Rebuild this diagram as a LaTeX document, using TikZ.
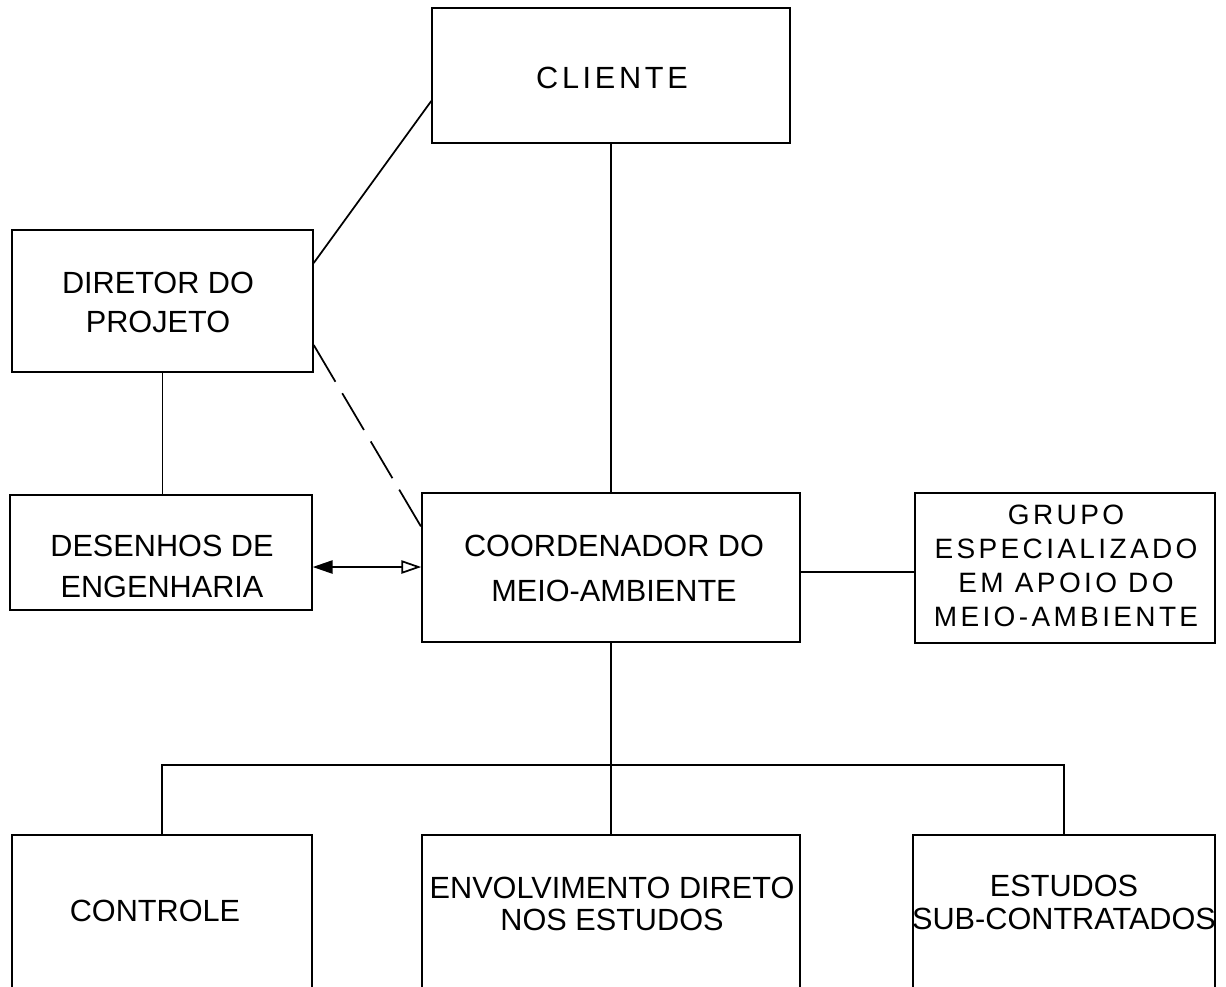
\documentclass[tikz,border=0pt]{standalone}
\usepackage{fontspec}
\setmainfont{Liberation Sans}
\newfontfamily\spacedfont[LetterSpace=12]{Liberation Sans}
\usetikzlibrary{fit,arrows.meta}
\tikzset{
  box/.style={draw=black, line width=1.1pt, inner sep=0pt, rectangle},
  lbl/.style={inner sep=0pt, align=center, text=black},
  conn/.style={draw=black, line width=1.3pt},
}
\begin{document}
\begin{tikzpicture}[x=0.75pt,y=-0.75pt]
\fill[white] (0,0) rectangle (1226,986);
\useasboundingbox (0,0) rectangle (1226,986);
% boxes
\node[box, fit={(432,8) (790,143)}] (cliente) {};
\node[box, fit={(12,230) (313,372)}] (dir) {};
\node[box, fit={(10,495) (312,610)}] (des) {};
\node[box, fit={(422,493) (800,642)}] (coord) {};
\node[box, fit={(915,493) (1215,643)}] (grupo) {};
\node[box, fit={(12,835) (312,995)}] (ctrl) {};
\node[box, fit={(422,835) (800,995)}] (env) {};
\node[box, fit={(913,835) (1215,995)}] (est) {};
% texts
\node[lbl, font=\spacedfont\fontsize{23}{30}\selectfont] (clienteT) at (612,77.5) {CLIENTE};
\node[lbl, font=\fontsize{23}{29.25}\selectfont] (dirT) at (158,302) {DIRETOR DO\\PROJETO};
\node[lbl, font=\fontsize{23}{30.75}\selectfont] (desT) at (162,566.5) {DESENHOS DE\\ENGENHARIA};
\node[lbl, font=\fontsize{23}{33.75}\selectfont] (coordT) at (614,568.5) {COORDENADOR DO\\MEIO-AMBIENTE};
\node[lbl, font=\spacedfont\fontsize{21}{25.5}\selectfont] (grupoT) at (1066,566) {GRUPO\\ESPECIALIZADO\\EM APOIO DO\\MEIO-AMBIENTE};
\node[lbl, font=\fontsize{23}{30}\selectfont] (ctrlT) at (155,911) {CONTROLE};
\node[lbl, font=\fontsize{23}{24}\selectfont] (envT) at (612,903.5) {ENVOLVIMENTO DIRETO\\NOS ESTUDOS};
\node[lbl, font=\fontsize{23}{24.75}\selectfont] (estT) at (1064,902.5) {ESTUDOS\\SUB-CONTRATADOS};
% connectors
\coordinate (bus) at (611,765);
\draw[conn] (dir.east |- 0,263) -- (cliente.west |- 0,101);
\draw[conn, dash pattern=on 32pt off 10pt] (dir.east |- 0,345) -- (coord.west |- 0,527);
\draw[conn] (dir.south) -- (dir.south |- des.north);
\draw[conn] (cliente.south) -- (coord.north);
\draw[conn, {Triangle[length=15pt,width=10pt]}-{Triangle[open,length=15pt,width=10pt]}] (des.east |- 0,567) -- (coord.west |- 0,567);
\draw[conn] (coord.east |- 0,572) -- (grupo.west |- 0,572);
\draw[conn] (coord.south) -- (env.north);
\draw[conn] (ctrl.north) -- (ctrl.north |- bus) -| (est.north);
\end{tikzpicture}
\end{document}
